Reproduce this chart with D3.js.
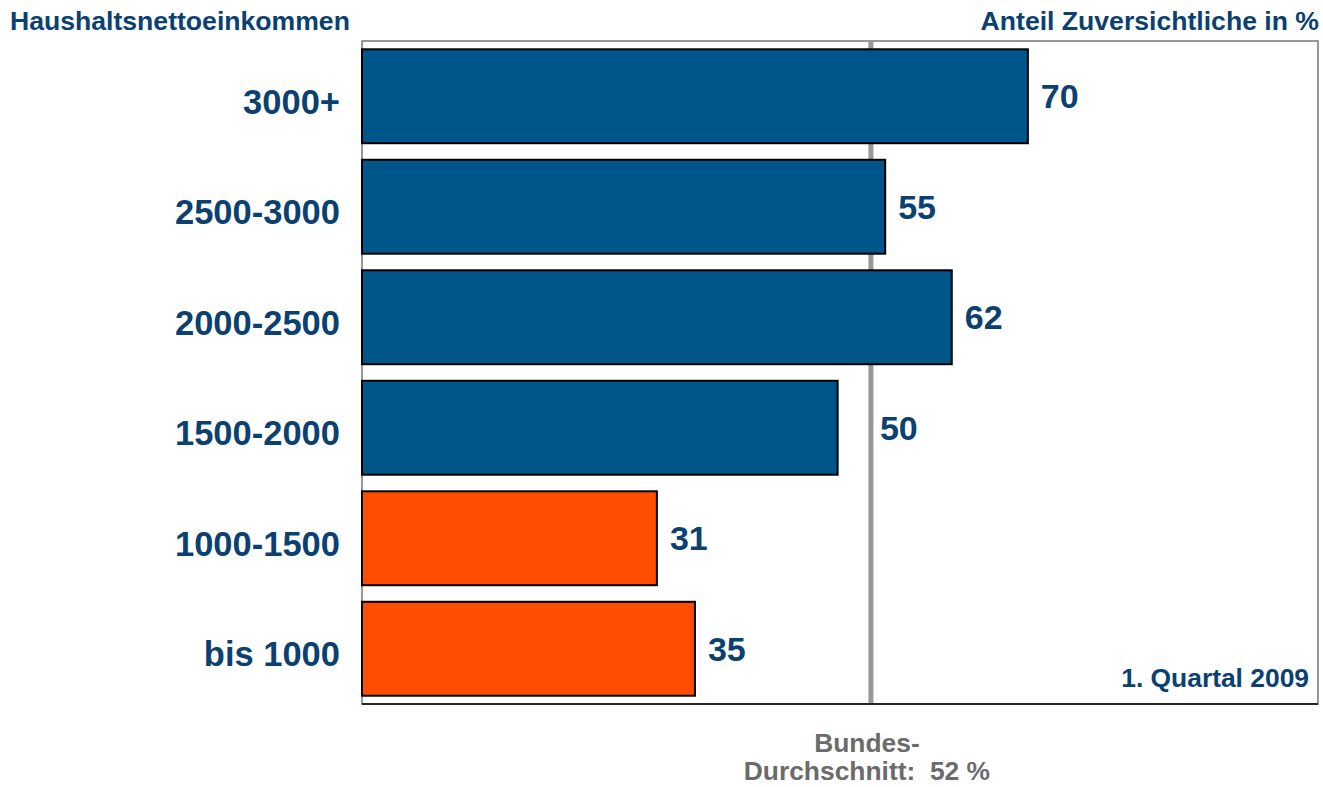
<!DOCTYPE html>
<html>
<head>
<meta charset="utf-8">
<script src="https://cdn.jsdelivr.net/npm/d3@7"></script>
<style>
  body { margin: 0; background: #fff; }
  svg { display: block; font-family: "Liberation Sans", Arial, sans-serif; font-weight: bold; }
</style>
</head>
<body>
<div id="chart"></div>
<script>
// data
const categories = ["3000+", "2500-3000", "2000-2500", "1500-2000", "1000-1500", "bis 1000"];
const values = [70, 55, 62, 50, 31, 35];
const barColors = ["#00558a", "#00558a", "#00558a", "#00558a", "#ff4e00", "#ff4e00"];
const avgLinePos = 53.5;      // where the average line sits in the picture
const avgLabel = ["Bundes-", "Durchschnitt:  52 %"];

const width = 1323, height = 787;
const margin = { top: 41, right: 5, bottom: 83, left: 362 };
const innerW = width - margin.left - margin.right;
const innerH = height - margin.top - margin.bottom;
const textBlue = "#0b4170";

const svg = d3.select("#chart").append("svg")
  .attr("width", width)
  .attr("height", height);

const g = svg.append("g")
  .attr("transform", `translate(${margin.left},${margin.top})`);

const x = d3.scaleLinear().domain([0, 100.5]).range([0, innerW]);
const y = d3.scaleBand().domain(categories).range([0, innerH]).paddingInner(0.15).paddingOuter(0.075);

// frame
g.append("rect")
  .attr("width", innerW)
  .attr("height", innerH)
  .attr("fill", "none")
  .attr("stroke", "#777")
  .attr("stroke-width", 1.5);

// average line (behind bars)
g.append("line")
  .attr("x1", x(avgLinePos)).attr("x2", x(avgLinePos))
  .attr("y1", 0).attr("y2", innerH)
  .attr("stroke", "#999")
  .attr("stroke-width", 5);

// bars
g.selectAll(".bar")
  .data(categories)
  .enter()
  .append("rect")
  .attr("class", "bar")
  .attr("x", 0)
  .attr("y", d => y(d))
  .attr("width", (d, i) => x(values[i]))
  .attr("height", y.bandwidth())
  .attr("fill", (d, i) => barColors[i])
  .attr("stroke", "#000")
  .attr("stroke-width", 2);

// bottom axis line
g.append("line")
  .attr("x1", 0).attr("x2", innerW)
  .attr("y1", innerH).attr("y2", innerH)
  .attr("stroke", "#000")
  .attr("stroke-width", 1.5);

// category labels (sit a little below the bar centre)
g.selectAll(".cat")
  .data(categories)
  .enter()
  .append("text")
  .attr("x", -22)
  .attr("y", d => y(d) + y.bandwidth() / 2 + 5)
  .attr("dy", "0.36em")
  .attr("text-anchor", "end")
  .attr("font-size", 34.5)
  .attr("fill", textBlue)
  .text(d => d);

// value labels, pushed past the average line when they would touch it
g.selectAll(".val")
  .data(categories)
  .enter()
  .append("text")
  .attr("x", (d, i) => {
    let px = x(values[i]) + 13;
    if (px < x(avgLinePos) + 8 && px + 40 > x(avgLinePos) - 3) px = x(avgLinePos) + 9;
    return px;
  })
  .attr("y", d => y(d) + y.bandwidth() / 2)
  .attr("dy", "0.36em")
  .attr("font-size", 34)
  .attr("fill", textBlue)
  .text((d, i) => values[i]);

// titles
svg.append("text")
  .attr("x", 10).attr("y", 30)
  .attr("font-size", 26.6)
  .attr("fill", textBlue)
  .text("Haushaltsnettoeinkommen");

svg.append("text")
  .attr("x", width - 4).attr("y", 30)
  .attr("text-anchor", "end")
  .attr("font-size", 26.6)
  .attr("fill", textBlue)
  .text("Anteil Zuversichtliche in %");

g.append("text")
  .attr("x", innerW - 9).attr("y", innerH - 17)
  .attr("text-anchor", "end")
  .attr("font-size", 26.4)
  .attr("fill", textBlue)
  .text("1. Quartal 2009");

// average label
g.selectAll(".avg")
  .data(avgLabel)
  .enter()
  .append("text")
  .attr("x", x(avgLinePos) - 4)
  .attr("y", (d, i) => innerH + 48 + i * 28)
  .attr("text-anchor", "middle")
  .attr("font-size", 26.4)
  .attr("fill", "#6b6b6b")
  .attr("xml:space", "preserve")
  .style("white-space", "pre")
  .text(d => d);
</script>
</body>
</html>
